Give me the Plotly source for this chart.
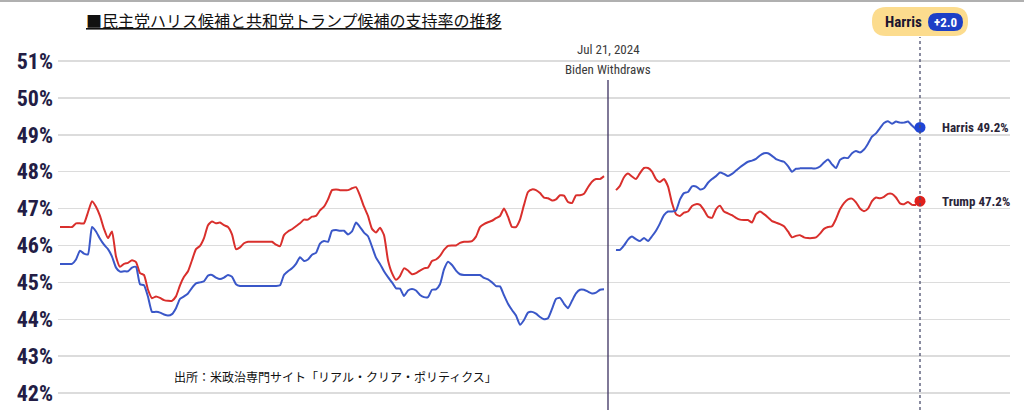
import pandas as pd
import plotly.graph_objects as go

# ---------------- data ----------------
start_date = "2024-03-06"        # first day of the pre-withdrawal series
post_start_date = "2024-07-23"   # first day of the post-withdrawal series
withdraw_date = "2024-07-21"
end_date = "2024-10-07"

trump_pre = [46.5, 46.5, 46.5, 46.5, 46.6, 46.6, 46.6, 46.9, 47.2, 47.05,
             46.8, 46.45, 46.2, 46.38, 45.7, 45.42, 45.5, 45.53, 45.6, 45.55,
             45.25, 45.2, 44.8, 44.57, 44.62, 44.58, 44.52, 44.5, 44.5, 44.62,
             44.92, 45.15, 45.3, 45.6, 45.9, 45.99, 46.2, 46.55, 46.65, 46.6,
             46.62, 46.55, 46.5, 46.3, 45.9, 45.95, 46.06, 46.1, 46.1, 46.1,
             46.1, 46.1, 46.1, 46.1, 46.02, 45.98, 46.28, 46.38, 46.44, 46.52,
             46.6, 46.7, 46.7, 46.78, 46.8, 46.95, 47.05, 47.25, 47.5, 47.52,
             47.5, 47.5, 47.5, 47.55, 47.58, 47.35, 47.05, 46.8, 46.45, 46.35,
             46.48, 46.28, 45.6, 45.25, 45.07, 45.17, 45.38, 45.32, 45.22, 45.25,
             45.32, 45.38, 45.4, 45.58, 45.62, 45.72, 45.88, 45.99, 46.0, 46.0,
             46.07, 46.1, 46.1, 46.12, 46.24, 46.5, 46.58, 46.63, 46.67, 46.74,
             46.8, 47.0, 46.78, 46.5, 46.5, 46.7, 47.1, 47.45, 47.52, 47.5,
             47.42, 47.3, 47.28, 47.22, 47.25, 47.36, 47.35, 47.18, 47.15, 47.36,
             47.36, 47.4, 47.58, 47.73, 47.8, 47.8, 47.88]

harris_pre = [45.5, 45.5, 45.5, 45.5, 45.62, 45.86, 45.78, 45.76, 46.5, 46.38,
              46.18, 46.02, 45.9, 45.7, 45.4, 45.29, 45.3, 45.3, 45.4, 45.42,
              44.95, 44.92, 44.61, 44.2, 44.2, 44.18, 44.13, 44.1, 44.14, 44.3,
              44.55, 44.62, 44.7, 44.85, 44.97, 45.0, 45.03, 45.18, 45.2, 45.13,
              45.09, 45.13, 45.2, 45.15, 44.95, 44.9, 44.9, 44.9, 44.9, 44.9,
              44.9, 44.9, 44.9, 44.9, 44.9, 44.92, 45.2, 45.3, 45.38, 45.5,
              45.68, 45.58, 45.62, 45.75, 45.8, 46.05, 46.12, 46.1, 46.4, 46.42,
              46.4, 46.4, 46.3, 46.38, 46.62, 46.5, 46.35, 46.25, 45.97, 45.67,
              45.5, 45.3, 45.14, 45.0, 44.84, 44.83, 44.63, 44.78, 44.82, 44.78,
              44.66, 44.6, 44.6, 44.8, 44.81, 44.95, 45.35, 45.56, 45.47, 45.32,
              45.22, 45.2, 45.2, 45.2, 45.2, 45.2, 45.12, 45.08, 45.0, 44.9,
              44.89, 44.65, 44.42, 44.25, 44.1, 43.85, 43.98, 44.18, 44.2, 44.15,
              44.06, 44.0, 44.03, 44.28, 44.55, 44.58, 44.42, 44.3, 44.5, 44.7,
              44.8, 44.8, 44.75, 44.7, 44.72, 44.8, 44.81]

trump_post = [47.5, 47.62, 47.85, 47.95, 47.87, 47.8, 47.96, 48.1, 48.1, 48.0,
              47.8, 47.72, 47.8, 47.6, 47.15, 46.85, 46.8, 46.89, 46.92, 47.07,
              47.12, 47.1, 46.96, 46.78, 46.75, 46.98, 47.08, 46.92, 46.87, 46.82,
              46.75, 46.7, 46.69, 46.69, 46.62, 46.85, 46.92, 46.85, 46.76, 46.66,
              46.62, 46.58, 46.52, 46.38, 46.22, 46.26, 46.28, 46.22, 46.2, 46.2,
              46.22, 46.32, 46.45, 46.5, 46.52, 46.72, 46.98, 47.15, 47.25, 47.27,
              47.17, 47.0, 46.93, 47.0, 47.2, 47.3, 47.28, 47.32, 47.4, 47.4,
              47.3, 47.14, 47.12, 47.18, 47.1, 47.1]

harris_post = [45.88, 45.88, 46.0, 46.16, 46.24, 46.17, 46.12, 46.2, 46.12, 46.25,
               46.4, 46.6, 46.82, 46.92, 46.92, 46.95, 47.25, 47.42, 47.45, 47.6,
               47.6, 47.52, 47.55, 47.7, 47.8, 47.88, 47.98, 47.94, 47.88, 47.94,
               48.03, 48.12, 48.2, 48.27, 48.3, 48.35, 48.44, 48.5, 48.5, 48.43,
               48.34, 48.3, 48.27, 48.15, 48.0, 48.08, 48.09, 48.09, 48.09, 48.09,
               48.09, 48.14, 48.25, 48.33, 48.2, 48.1, 48.32, 48.38, 48.37, 48.5,
               48.56, 48.52, 48.6, 48.76, 48.95, 49.04, 49.18, 49.32, 49.37, 49.3,
               49.36, 49.33, 49.33, 49.36, 49.25, 49.15]

harris_final = 49.2
trump_final = 47.2
harris_lead = "+2.0"

y_ticks = [42, 43, 44, 45, 46, 47, 48, 49, 50, 51]
y_labels = [f"{v}%" for v in y_ticks]

title_text = "■民主党ハリス候補と共和党トランプ候補の支持率の推移"
source_text = "出所：米政治専門サイト「リアル・クリア・ポリティクス」"
event_date_label = "Jul 21, 2024"
event_label = "Biden Withdraws"

# ---------------- build ----------------
pre_dates = pd.date_range(start_date, periods=len(trump_pre), freq="D")
post_dates = pd.date_range(post_start_date, periods=len(trump_post), freq="D")
x_all = list(pre_dates) + [None] + list(post_dates)
trump_all = trump_pre + [None] + trump_post
harris_all = harris_pre + [None] + harris_post

RED = "#d92f2c"
BLUE = "#3a57c8"
W, H = 1024, 412
ML, MR, MT, MB = 58, 14, 40, 2
PW, PH = W - ML - MR, H - MT - MB


def px(x):
    return (x - ML) / PW


def py(y):
    return (H - MB - y) / PH


def rounded_rect(x0, y0, x1, y1, r):
    pts = [
        ("M", [(x0 + r, y0)]), ("L", [(x1 - r, y0)]), ("Q", [(x1, y0), (x1, y0 + r)]),
        ("L", [(x1, y1 - r)]), ("Q", [(x1, y1), (x1 - r, y1)]),
        ("L", [(x0 + r, y1)]), ("Q", [(x0, y1), (x0, y1 - r)]),
        ("L", [(x0, y0 + r)]), ("Q", [(x0, y0), (x0 + r, y0)]),
    ]
    s = ""
    for cmd, ps in pts:
        s += cmd + " " + " ".join(f"{px(a):.5f},{py(b):.5f}" for a, b in ps) + " "
    return s + "Z"


fig = go.Figure()
fig.add_trace(go.Scatter(x=x_all, y=trump_all, mode="lines", connectgaps=False,
                         line=dict(color=RED, width=2, shape="spline", smoothing=0.5),
                         hoverinfo="skip", showlegend=False))
fig.add_trace(go.Scatter(x=x_all, y=harris_all, mode="lines", connectgaps=False,
                         line=dict(color=BLUE, width=2, shape="spline", smoothing=0.5),
                         hoverinfo="skip", showlegend=False))
fig.add_trace(go.Scatter(x=[end_date], y=[harris_final], mode="markers",
                         marker=dict(color="#1f45d6", size=11), showlegend=False, hoverinfo="skip"))
fig.add_trace(go.Scatter(x=[end_date], y=[trump_final], mode="markers",
                         marker=dict(color="#e0201c", size=11), showlegend=False, hoverinfo="skip"))

x_start = pd.Timestamp(start_date) - pd.Timedelta(hours=12)
x_end = pd.Timestamp(start_date) + pd.Timedelta(days=237.5)

narrow = "Liberation Sans Narrow, Arial Narrow, Roboto Condensed, Liberation Sans, sans-serif"

fig.update_layout(
    width=W, height=H,
    margin=dict(l=ML, r=MR, t=MT, b=MB, autoexpand=False),
    paper_bgcolor="white", plot_bgcolor="white",
    hovermode=False,
    xaxis=dict(range=[x_start, x_end], showgrid=False, showticklabels=False,
               zeroline=False, showline=False, ticks=""),
    yaxis=dict(range=[41.54, 51.57], tickvals=y_ticks, ticktext=y_labels,
               showgrid=True, gridcolor="#dcdcdc", gridwidth=1.5, zeroline=False,
               showline=False, ticks="", ticklabelstandoff=4, automargin=False,
               tickfont=dict(family=narrow, size=22, color="#231d45", weight="bold")),
    shapes=[
        # top border
        dict(type="line", xref="paper", yref="paper", x0=px(0), x1=px(W), y0=py(1), y1=py(1),
             line=dict(color="#b0b0b0", width=2)),
        # withdrawal line
        dict(type="line", xref="x", yref="paper", x0=withdraw_date, x1=withdraw_date,
             y0=0, y1=py(80), line=dict(color="#3b3160", width=1.3)),
        # latest-date dotted line
        dict(type="line", xref="x", yref="paper", x0=end_date, x1=end_date,
             y0=0, y1=py(37), line=dict(color="#4c4f6e", width=1.3, dash="dot")),
        # badge
        dict(type="path", xref="paper", yref="paper", path=rounded_rect(872, 7, 968, 36, 14),
             fillcolor="#fcdc8e", line=dict(width=0)),
        dict(type="path", xref="paper", yref="paper", path=rounded_rect(928, 13, 963, 31, 9),
             fillcolor="#1d3fc6", line=dict(width=0)),
    ],
    annotations=[
        dict(xref="paper", yref="paper", x=px(84), y=py(20), xanchor="left", yanchor="middle",
             text=f"<u>{title_text}</u>", showarrow=False,
             font=dict(family="Noto Sans CJK JP", size=16, color="#111111")),
        dict(xref="paper", yref="paper", x=px(903), y=py(22), xanchor="center", yanchor="middle",
             text="<b>Harris</b>", showarrow=False,
             font=dict(family=narrow, size=15, color="#1b1530")),
        dict(xref="paper", yref="paper", x=px(945.5), y=py(22), xanchor="center", yanchor="middle",
             text=f"<b>{harris_lead}</b>", showarrow=False,
             font=dict(family=narrow, size=13, color="white")),
        dict(xref="x", yref="paper", x=withdraw_date, y=py(50), xanchor="center", yanchor="middle",
             text=event_date_label, showarrow=False,
             font=dict(family=narrow, size=13, color="#3a3a3a")),
        dict(xref="x", yref="paper", x=withdraw_date, y=py(70), xanchor="center", yanchor="middle",
             text=event_label, showarrow=False,
             font=dict(family=narrow, size=13, color="#3a3a3a")),
        dict(xref="paper", yref="y", x=px(940), y=harris_final, xanchor="left", yanchor="middle",
             text=f"<b>Harris {harris_final}%</b>", showarrow=False,
             font=dict(family=narrow, size=13, color="#2a2438")),
        dict(xref="paper", yref="y", x=px(940), y=trump_final, xanchor="left", yanchor="middle",
             text=f"<b>Trump {trump_final}%</b>", showarrow=False,
             font=dict(family=narrow, size=13, color="#2a2438")),
        dict(xref="paper", yref="paper", x=px(172), y=py(376), xanchor="left", yanchor="middle",
             text=source_text, showarrow=False,
             font=dict(family="Noto Sans CJK JP", size=12, color="#111111")),
    ],
)

fig.write_html("out.html", config={"displayModeBar": False, "staticPlot": True},
               post_script="document.body.style.margin='0';document.body.style.overflow='hidden';")
